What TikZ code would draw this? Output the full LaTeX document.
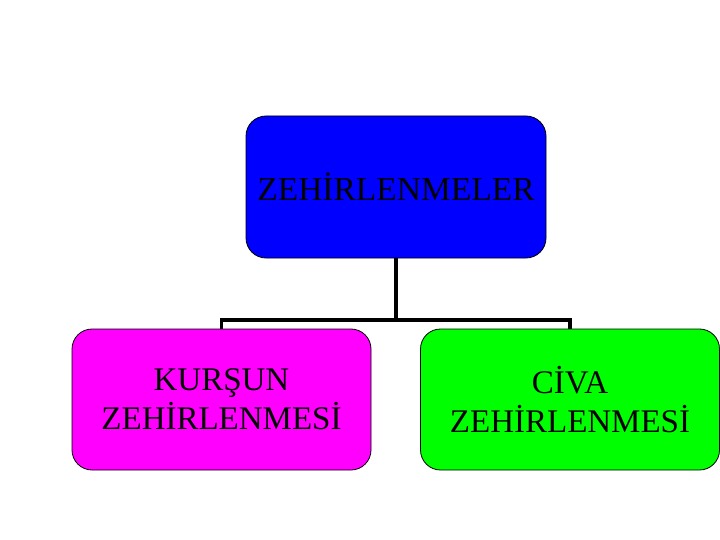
\documentclass[tikz,border=0pt]{standalone}
\usepackage{fontspec}
\setmainfont{Liberation Serif}
\begin{document}
\begin{tikzpicture}[x=1pt,y=-1pt,
  box/.style={draw=black, line width=0.8pt, rounded corners=20pt, minimum width=299pt, minimum height=141pt, align=center, inner sep=0pt, font=\fontsize{33}{39}\selectfont},
  conn/.style={line width=3.4pt, black}]
\useasboundingbox (0,0) rectangle (720,540);
\node[box, fill={rgb,255:red,0;green,0;blue,255}, minimum width=300pt, minimum height=142pt, font=\fontsize{33.5}{39}\selectfont] (top) at (396,187) {ZEHİRLENMELER};
\node[box, fill={rgb,255:red,255;green,0;blue,255}] (left) at (221.5,399.5) {KURŞUN\\ZEHİRLENMESİ};
\node[box, fill={rgb,255:red,0;green,255;blue,0}] (right) at (570,399.5) {CİVA\\ZEHİRLENMESİ};
\coordinate (j) at (396,320);
\draw[conn] (top.south) -- (j);
\draw[conn] (left.north) -- (left.north |- j) -- (right.north |- j) -- (right.north);
\end{tikzpicture}
\end{document}
